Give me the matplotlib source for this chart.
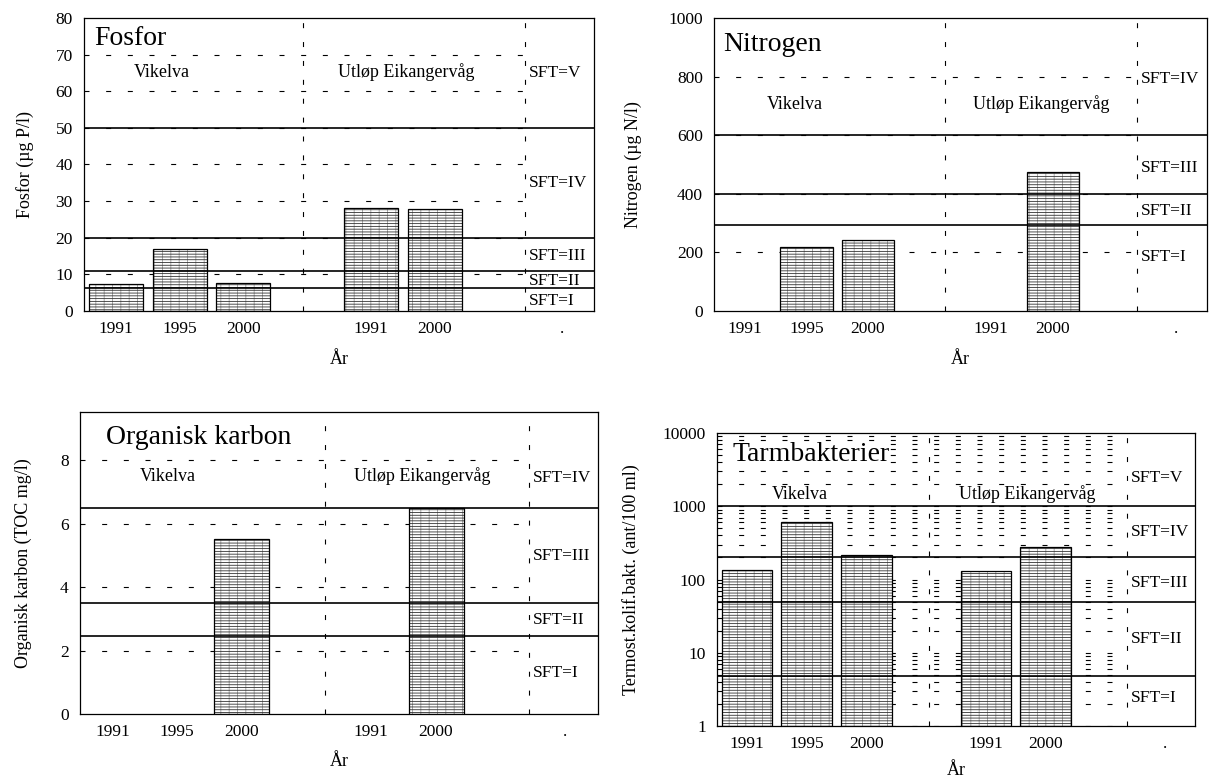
import matplotlib
matplotlib.use("Agg")
import matplotlib.pyplot as plt
from matplotlib.ticker import LogLocator, FixedLocator, NullLocator, FuncFormatter

plt.rcParams["font.family"] = ["Liberation Serif", "DejaVu Serif"]
plt.rcParams["hatch.linewidth"] = 0.6
plt.rcParams["lines.scale_dashes"] = False

# ── Data ──────────────────────────────────────────────────────────
categories = ["1991", "1995", "2000", "", "1991", "2000", "", "."]
groups = ["Vikelva", "Utløp Eikangervåg"]
sft_classes = ["SFT=I", "SFT=II", "SFT=III", "SFT=IV", "SFT=V"]

fosfor    = [7.5, 16.9, 7.7, None, 28.1, 27.9, None, None]
nitrogen  = [None, 220, 241, None, None, 473, None, None]
karbon    = [None, None, 5.53, None, None, 6.48, None, None]
bakterier = [134, 608, 215, None, 130, 279, None, None]

fosfor_sft    = [6.3, 11, 20, 50]
nitrogen_sft  = [295, 400, 600]
karbon_sft    = [2.45, 3.5, 6.5]
bakterier_sft = [4.8, 50, 200, 1000]

# ── Panel settings (layout only) ──────────────────────────────────
panels = [
    dict(rect=[0.0694, 0.6023, 0.4215, 0.3747], values=fosfor, sft=fosfor_sft,
         title="Fosfor", title_xy=(-0.34, 72.7), ylabel="Fosfor (µg P/l)", ylab_x=-0.098,
         ylim=(0, 80), yticks=list(range(0, 81, 10)), log=False,
         vlines=[2.94, 6.42], group_x=[0.72, 4.55], group_y=64,
         sft_y=[1.6, 7.1, 13.9, 33.8, 63.9], xlab_y=-0.135),
    dict(rect=[0.590, 0.6023, 0.4074, 0.3747], values=nitrogen, sft=nitrogen_sft,
         title="Nitrogen", title_xy=(-0.35, 889), ylabel="Nitrogen (µg N/l)", ylab_x=-0.146,
         ylim=(0, 1000), yticks=list(range(0, 1001, 200)), log=False,
         vlines=[3.25, 6.37], group_x=[0.82, 4.82], group_y=690,
         sft_y=[169, 328, 476, 778], xlab_y=-0.135),
    dict(rect=[0.0661, 0.0870, 0.428, 0.3862], values=karbon, sft=karbon_sft,
         title="Organisk karbon", title_xy=(-0.1, 8.52), ylabel="Organisk karbon (TOC mg/l)",
         ylab_x=-0.093, ylim=(0, 9.52), yticks=[0, 2, 4, 6, 8], log=False,
         vlines=[3.29, 6.44], group_x=[0.85, 4.78], group_y=7.35,
         sft_y=[1.15, 2.83, 4.85, 7.32], xlab_y=-0.13),
    dict(rect=[0.5926, 0.0716, 0.395, 0.3747], values=bakterier, sft=bakterier_sft,
         title="Tarmbakterier", title_xy=(-0.24, 4100),
         ylabel="Termost.kolif.bakt. (ant/100 ml)", ylab_x=-0.161,
         ylim=(1, 10000), yticks=[1, 10, 100, 1000, 10000], log=True,
         vlines=[3.05, 6.36], group_x=[0.89, 4.7], group_y=1270,
         sft_y=[2.15, 13.8, 80, 387, 2120], xlab_y=-0.122),
]

fig = plt.figure(figsize=(12.1, 7.82), dpi=100, facecolor="white")

x_all = list(range(len(categories)))
tick_pos = [i for i, c in enumerate(categories) if c]
tick_lab = [c for c in categories if c]

for p in panels:
    ax = fig.add_axes(p["rect"])
    ax.set_xlim(-0.5, len(categories) - 0.5)
    if p["log"]:
        ax.set_yscale("log")
    ax.set_ylim(*p["ylim"])
    ax.yaxis.set_major_locator(FixedLocator(p["yticks"]))
    ax.yaxis.set_minor_locator(NullLocator())
    ax.yaxis.set_major_formatter(FuncFormatter(lambda v, pos: f"{v:g}"))
    ax.set_xticks(tick_pos)
    ax.set_xticklabels(tick_lab)
    ax.tick_params(axis="both", length=0, labelsize=12.5)
    ax.tick_params(axis="y", pad=8)
    ax.tick_params(axis="x", pad=7)
    for s in ax.spines.values():
        s.set_linewidth(0.9)

    base = p["ylim"][0]
    x_end = p["vlines"][-1]

    # dashed grid rows up to the last divider
    if p["log"]:
        rows = LogLocator(base=10, subs=range(1, 10)).tick_values(*p["ylim"])
        rows = [r for r in rows if p["ylim"][0] <= r < p["ylim"][1]]
    else:
        rows = [t for t in p["yticks"] if base < t < p["ylim"][1]]
    ax.hlines(rows, -0.5, x_end, colors="black", linewidth=0.8,
              linestyles=[(0, (3.6, 12.0))], zorder=1)

    # dashed vertical dividers
    ax.vlines(p["vlines"], base, p["ylim"][1], colors="black", linewidth=0.8,
              linestyles=[(0, (3.6, 10.0))], zorder=1)

    # bars: light vertical hatch, dark horizontal hatch, black outline
    xs = [x for x, v in zip(x_all, p["values"]) if v is not None]
    vs = [v for v in p["values"] if v is not None]
    hs = [v - base for v in vs]
    ax.bar(xs, hs, bottom=base, width=0.85, color="white", edgecolor="#9a9a9a",
           linewidth=0, hatch="||", zorder=2)
    ax.bar(xs, hs, bottom=base, width=0.85, color="none", edgecolor="#303030",
           linewidth=0, hatch="------", zorder=3)
    ax.bar(xs, hs, bottom=base, width=0.85, color="none", edgecolor="black",
           linewidth=0.9, zorder=4)

    # SFT class limits
    for t in p["sft"]:
        ax.axhline(t, color="black", linewidth=1.2, zorder=5)

    # texts
    tx, ty = p["title_xy"]
    title_box = dict(facecolor="white", edgecolor="none", pad=0) if p["log"] else None
    ax.text(tx, ty, p["title"], fontsize=20, ha="left", va="baseline", zorder=6,
            bbox=title_box)
    for gx, g in zip(p["group_x"], groups):
        ax.text(gx, p["group_y"], g, fontsize=13, ha="center", va="baseline", zorder=6)
    for sy, lab in zip(p["sft_y"], sft_classes):
        ax.text(p["vlines"][-1] + 0.06, sy, lab, fontsize=12.5, ha="left",
                va="baseline", zorder=6)

    ax.set_ylabel(p["ylabel"], fontsize=13)
    ax.yaxis.set_label_coords(p["ylab_x"], 0.5)
    ax.set_xlabel("År", fontsize=13)
    ax.xaxis.set_label_coords(0.5, p["xlab_y"])

fig.savefig("out.png", dpi=100, facecolor="white")
